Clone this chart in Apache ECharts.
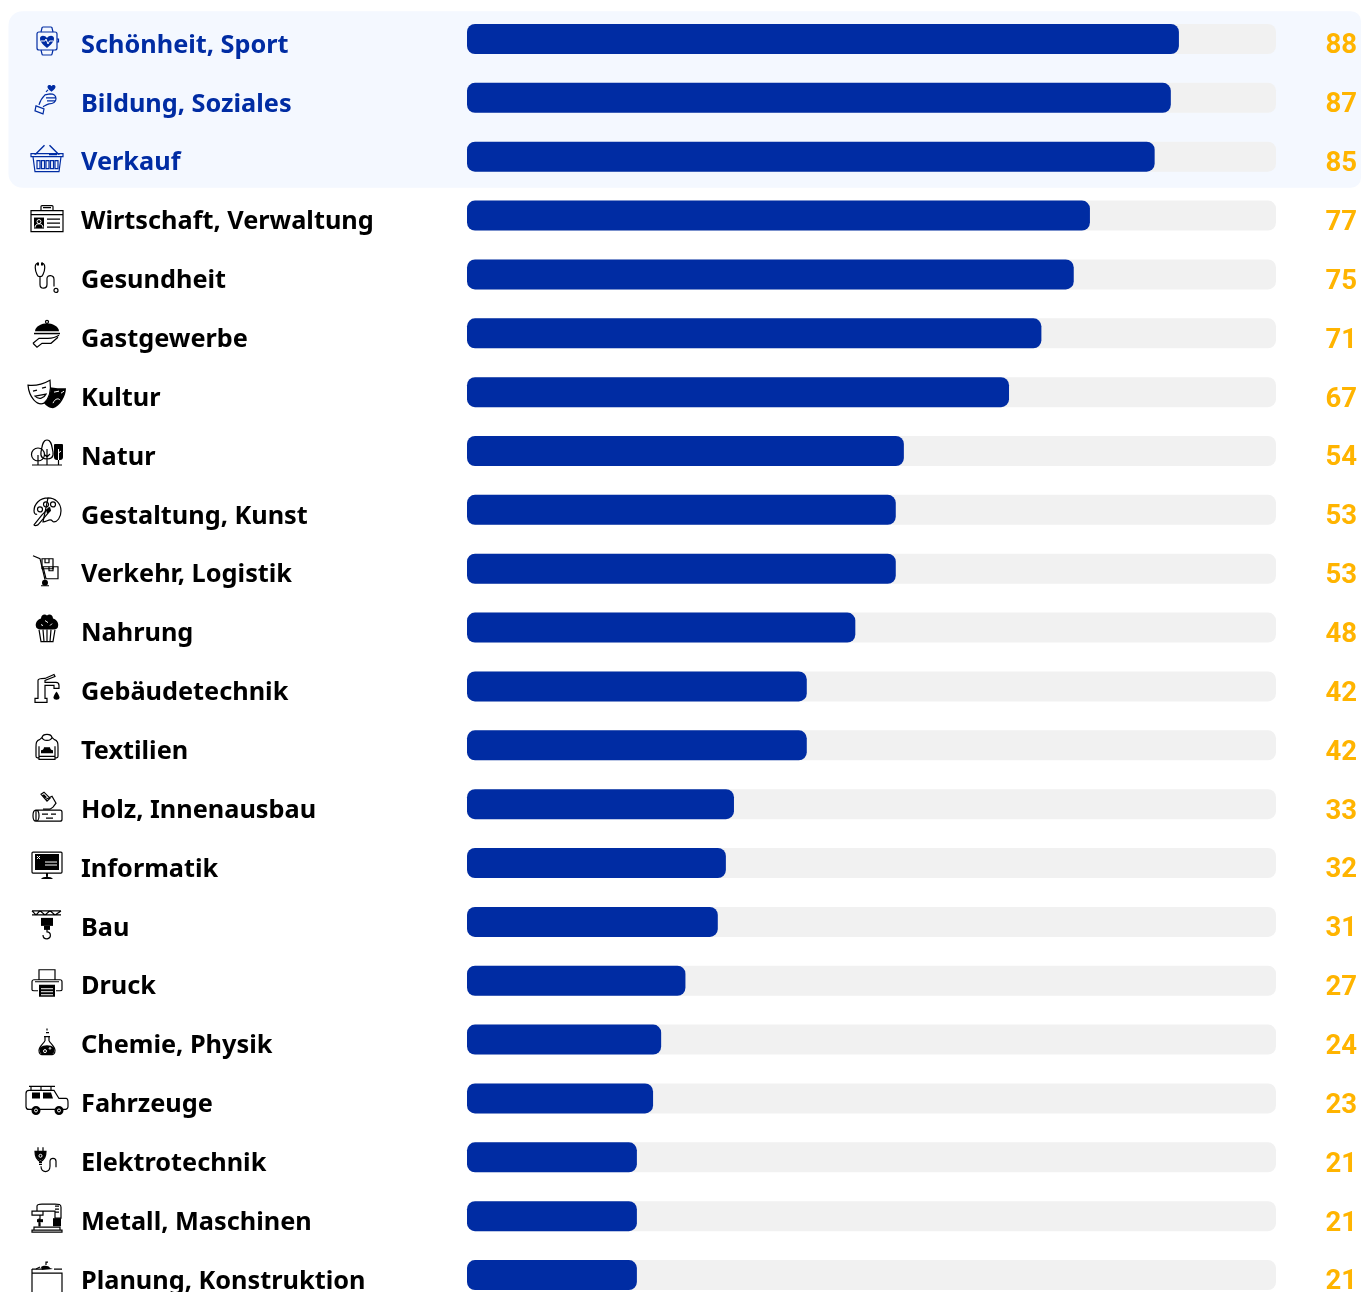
<!DOCTYPE html>
<html><head><meta charset="utf-8">
<style>html,body{margin:0;padding:0;background:#fff;overflow:hidden;height:1292px}#w{width:1361px;height:1292px;overflow:hidden}#c{width:1361px;height:1330px}</style>
<script src="https://cdn.jsdelivr.net/npm/echarts@6/dist/echarts.min.js"></script>
</head><body><div id="w"><div id="c"></div></div>
<script>
const categories = ['Schönheit, Sport','Bildung, Soziales','Verkauf','Wirtschaft, Verwaltung','Gesundheit','Gastgewerbe','Kultur','Natur','Gestaltung, Kunst','Verkehr, Logistik','Nahrung','Gebäudetechnik','Textilien','Holz, Innenausbau','Informatik','Bau','Druck','Chemie, Physik','Fahrzeuge','Elektrotechnik','Metall, Maschinen','Planung, Konstruktion'];
const values = [88,87,85,77,75,71,67,54,53,53,48,42,42,33,32,31,27,24,23,21,21,21];
const highlightedRows = [0,1,2];
const BLUE='#002ca3', INK='#000000';

// decorative pictograms, [path, kind]: s = outline, f = solid, w = white outline
const icons = [
 [['M-8 -9H8a2 2 0 0 1 2 2V7a2 2 0 0 1 -2 2H-8a2 2 0 0 1 -2 -2V-7a2 2 0 0 1 2 -2Z','s'],['M-6 -9L-5 -13a1 1 0 0 1 1 -1H4a1 1 0 0 1 1 1L6 -9M-6 9L-5 13a1 1 0 0 0 1 1H4a1 1 0 0 0 1 -1L6 9M10 -2h1.5v3H10','s'],['M0 7C-5 3 -7 0 -7 -2.5C-7 -6 -2 -6 0 -3C2 -6 7 -6 7 -2.5C7 0 5 3 0 7Z','f'],['M-6 0H-2L-1 -2L1 3L2.5 0H6','w']],
 [['M4.5 -8C1 -10.5 0.5 -12 0.5 -13C0.5 -15 3.5 -15.5 4.5 -13.5C5.5 -15.5 8.5 -15 8.5 -13C8.5 -12 8 -10.5 4.5 -8Z','f'],['M-8 5C-7 1 -5 -2 -2 -5L3 -6C7 -6 9 -4 9 -1C9 2 6 4 2 4C-1 5 -2 6 -4 7M-1 -8L1 -10M-1 -2H9M0 1H9','s'],['M-11 6L-3 9L-4 14L-12 11Z','s']],
 [['M-13 -4L-3 -14L-2 -13L-11 -4ZM13 -4L3 -14L2 -13L11 -4Z','f'],['M-16 -5H16V-2H-16ZM-14 -2L-12 13H12L14 -2M2 -4H10','s'],['M-10 2h3v8h-3ZM-5.5 2h3v8h-3ZM-1 2h3v8h-3ZM3.5 2h3v8h-3ZM8 2h3v8h-3Z','s']],
 [['M-16 -7H16V14H-16ZM-16 -3H16M-6 -7V-11a1 1 0 0 1 1 -1H5a1 1 0 0 1 1 1V-7M-4 -10H4','s'],['M-13 0H-3V11H-13Z','f'],['M-8 2a2 2 0 1 1 -0.01 0ZM-12 10C-12 5 -4 5 -4 10','w'],['M0 1.5H13M0 5.5H13M0 9.5H13','s']],
 [['M-9 -13C-13 -13 -12 -6 -10 -2C-9 1 -5 1 -4 -2C-2 -6 -1 -13 -5 -13M-7 0V8C-7 13 0 13 0 8V2C0 -2 7 -2 7 3V10','s'],['M-10 -14h2v3h-2ZM-6 -14h2v3h-2Z','f'],['M9 12a2 2 0 1 1 -0.01 0Z','s']],
 [['M-12 -4C-12 -9 -5 -12 0 -12C5 -12 12 -9 12 -4Z','f'],['M0 -15a1.5 1.5 0 1 1 -0.01 0Z','s'],['M-13 -2.5H13V-1H-13Z','f'],['M-14 8L-8 3H1C5 3 9 2 12 0M-14 8L-10 12L-5 8H4L11 2','s']],
 [['M-19 -9C-11 -8 -4 -10 3 -14C4 -6 3 4 -3 9C-10 12 -18 3 -19 -9Z','s'],['M3 -7C8 -6 13 -6 19 -6C19 2 13 12 6 14C2 14 -1 11 -3 9C2 4 4 -2 3 -7Z','f'],['M-14 -3L-10 -4M-5 -6L-1 -7M-12 2C-8 6 -3 4 -1 0Z','s'],['M7 -2L12 -3M14 -1L17 -3M6 9C8 4 12 4 13 6','w']],
 [['M-9 -5a6.5 6.5 0 1 1 -0.01 0ZM0 -13C-5 -13 -5 -5 -6 -1C-7 5 -3 6 0 6C3 6 7 5 6 -1C5 -5 5 -13 0 -13ZM-15 12H15M-9 12V2M0 12V-4M-3 1L0 4L3 1','s'],['M8 -9h7a1 1 0 0 1 1 1V4a3 3 0 0 1 -3 3H10a3 3 0 0 1 -3 -3V-8a1 1 0 0 1 1 -1Z','f'],['M11.5 -4V7M11.5 0L14 -2','w'],['M11.5 7V12','s']],
 [['M1 -14C-7 -14 -13 -8 -13 -1C-13 2 -11 3 -10 2M-4 10C-1 10 1 8 3 8C6 8 5 10 7 10C10 10 14 6 14 -1C14 -9 8 -14 1 -14Z','s'],['M-7 -5a2.5 2.5 0 1 1 -0.01 0ZM-1 -10a2.5 2.5 0 1 1 -0.01 0ZM6 -10a2.5 2.5 0 1 1 -0.01 0Z','s'],['M-13 13L-5 3L2 -4L3 -1L-3 6L-9 13C-11 14 -13 14 -13 13Z','s'],['M-1 -2L3 -5L4 -1L0 2Z','f']],
 [['M-14 -15L-7 -12L-2 9M-6 15H2','s'],['M-5 -12H6V-2H-5ZM-4 -4H11V8H-1Z','s'],['M-2 9a3 3 0 1 1 -0.01 0Z','f'],['M-2 -12V-8H2V-12M2 -4V0H6V-4','s']],
 [['M0 -14C-2 -16 -6 -15 -6 -11C-10 -10 -12 -6 -11 -3C-11 -1 -8 0 -6 0H6C9 0 11 -1 11 -3C12 -6 10 -10 6 -11C6 -15 2 -16 0 -14Z','f'],['M-8 0L-6 12H6L8 0M-4 0L-3 12M0 0V12M4 0L3 12','s'],['M-2 -9L1 -7M3 -4L5 -6M-6 -5L-4 -4','w']],
 [['M-12 14V10H-9V-8C-9 -10 -6 -10 -2 -10L7 -14L8 -12L-2 -8V-6H9C11 -6 12 -5 12 -3V0H7V-3H-2V10H0V14Z','s'],['M9.5 3C9.5 3 6.5 7 6.5 9C6.5 12 12.5 12 12.5 9C12.5 7 9.5 3 9.5 3Z','f']],
 [['M-5 -10C-4 -14 4 -14 5 -10L7 -8C11 -7 11 -4 11 0V9C11 11 8 11 8 10V12H-8V10C-8 11 -11 11 -11 9V0C-11 -4 -11 -7 -7 -8ZM-5 -10C-4 -6 4 -6 5 -10M-8 -1V10M8 -1V10M-8 9H8','s'],['M-6 6V3C-4 3 -3 1 -3 0H3C3 1 4 3 6 3V6Z','f']],
 [['M-11 4H13a2 2 0 0 1 2 2V13a2 2 0 0 1 -2 2H-11ZM-11 4C-15 4 -15 15 -11 15C-7 15 -7 4 -11 4ZM-5 8H1M4 8H9M-1 12H6','s'],['M-6 -12L-3 -14L3 -8L0 -5ZM-1 -7L5 -10L9 -3L6 1L3 3H-4','s'],['M-5 -11L-3 -12L0 -9L-2 -8Z','f']],
 [['M-14 -13H14a1 1 0 0 1 1 1V7a1 1 0 0 1 -1 1H-14a1 1 0 0 1 -1 -1V-12a1 1 0 0 1 1 -1Z','s'],['M-12 -11H12V5H-12Z','f'],['M-10 -9L-7 -6M-7 -9L-10 -6M-2 -3H10M-2 0H10','w'],['M-1 8V12H1V8ZM-6 14C-4 11 4 11 6 14Z','f']],
 [['M-15 -13H14M-15 -9H14M-15 -13L-11 -9L-7 -13L-2 -9L3 -13L8 -9L14 -13','s'],['M-6 -6H6V2H-6Z','f'],['M-3 2H3V6H-3Z','f'],['M0 5V8C4 8 5 14 0 15C-3 15 -4 13 -4 11','s']],
 [['M-8 -3V-13H8V-3M-15 7V-1C-15 -2 -14 -3 -13 -3H13C14 -3 15 -2 15 -1V7C15 8 14 8 13 8H9M-9 8H-13C-14 8 -15 8 -15 7M-12 -1H12','s'],['M-8 2H8V14H-8Z','f'],['M-6 6H6M-6 9H6M-6 12H6','w']],
 [['M-2 -5V-1C-3 2 -8 4 -8 9C-8 12 -6 13 -5 13H5C6 13 8 12 8 9C8 4 3 2 2 -1V-5M-3 -5H3M-1 -9H2M0 -11V-13','s'],['M-7 6C-3 3 3 3 7 6C8 9 7 13 4 13H-4C-7 13 -8 9 -7 6Z','f'],['M-2 8a1.5 1.5 0 1 1 -0.01 0ZM3 6a0.8 0.8 0 1 1 -0.01 0Z','w']],
 [['M-18 -10H7L12 -2H19C21 -2 21 0 21 2V6C21 8 19 9 17 9H-18C-20 9 -21 8 -21 6V-7C-21 -9 -20 -10 -18 -10ZM-18 -14H8M-16 -14V-10M-6 -14V-10M4 -14V-10','s'],['M-15 -8H-7V-2H-15ZM-4 -8H4L6 -2H-4Z','f'],['M-11 5.5a4.5 4.5 0 1 1 -0.01 0ZM12 5.5a4.5 4.5 0 1 1 -0.01 0Z','f'],['M-11 8.5a1.5 1.5 0 1 1 -0.01 0ZM12 8.5a1.5 1.5 0 1 1 -0.01 0Z','w']],
 [['M-9 -12V-8M-4 -12V-8M-12 -8H-1C-1 -3 -3 1 -6.5 2C-10 1 -12 -3 -12 -8ZM-8 3H-5M-8 5H-5M-6 7C-6 14 3 14 3 7V2C3 -2 9 -2 9 2V8','s'],['M-12 -8H-1C-1 -3 -3 1 -6.5 1C-10 1 -12 -3 -12 -8Z','f'],['M-6.5 -5a1.5 1.5 0 1 1 -0.01 0Z','w']],
 [['M-15 12H15V14H-15ZM-13 12V9H13V12M-10 -7V-12C-10 -14 -7 -14 -5 -14H8C12 -14 14 -14 14 -11V0H8V-7H-15V-3H-4V-7M-7 -3V1H-8V8M-7 4V8','s'],['M6 0H14V8H6Z','f'],['M8 -12H12M8 -9H12M8 -6H12','s'],['M-10 1H-4V4H-10Z','f']],
 [['M-15 -4H15V16H-15ZM-15 -8V-4M-15 -8H-5M7 -8H15','s'],['M-6 -10C-4 -12 2 -12 3 -9L6 -8L-5 -7Z','f'],['M-1 -12V-15L1 -15','s'],['M-11 -8L-7 -10','s']]
];

const chart = echarts.init(document.getElementById('c'), null, {renderer:'canvas'});
const isHi = i => highlightedRows.includes(i);
chart.setOption({
  animation:false,
  grid:{left:467,width:809,top:9.57,height:1294.9,containLabel:false},
  xAxis:{type:'value',min:0,max:100,show:false},
  yAxis:[
   {type:'category',inverse:true,data:categories,axisLine:{show:false},axisTick:{show:false},splitLine:{show:false},
    axisLabel:{interval:0,margin:386,align:'left',verticalAlign:'top',lineHeight:13,fontFamily:'Noto Sans',fontWeight:700,fontSize:25.3,
      color:(v,i)=>isHi(i)?BLUE:INK}},
   {type:'category',inverse:true,position:'right',data:values,axisLine:{show:false},axisTick:{show:false},splitLine:{show:false},
    axisLabel:{interval:0,margin:81,align:'right',verticalAlign:'top',lineHeight:15,fontFamily:'Roboto',fontWeight:700,fontSize:27.5,color:'#ffb400'}}
  ],
  series:[
   {type:'custom',z:0,silent:true,clip:false,data:highlightedRows.map(i=>[0,i]),encode:{x:0,y:1},
    renderItem:(p,api)=>{const i=api.value(1),c=api.coord([0,i]),b=api.size([0,1])[1],last=highlightedRows.length-1;
      const first=i===highlightedRows[0],end=i===highlightedRows[last];
      return {type:'rect',shape:{x:8.5,y:c[1]-b/2+1.6,width:1352.5,height:b,r:[first?14:0,first?10:0,end?10:0,end?14:0]},style:{fill:'#f4f8ff'}};}},
   {type:'bar',yAxisIndex:0,data:values,barWidth:30,z:2,showBackground:true,
    backgroundStyle:{color:'#f1f1f1',borderRadius:8},itemStyle:{color:BLUE,borderRadius:8}},
   {type:'custom',z:3,silent:true,clip:false,data:categories.map((c,i)=>[0,i]),encode:{x:0,y:1},
    renderItem:(p,api)=>{const i=api.value(1),c=api.coord([0,i]),col=isHi(i)?BLUE:INK,x=c[0]-420,y=c[1]+2;
      return {type:'group',x:x,y:y,children:icons[i].map(([d,k])=>({type:'path',shape:{pathData:d},
        style:k==='f'?{fill:col,stroke:null}:{fill:null,stroke:k==='w'?'#fff':col,lineWidth:k==='w'?1:1.2}}))};}}
  ]
});
</script></body></html>
